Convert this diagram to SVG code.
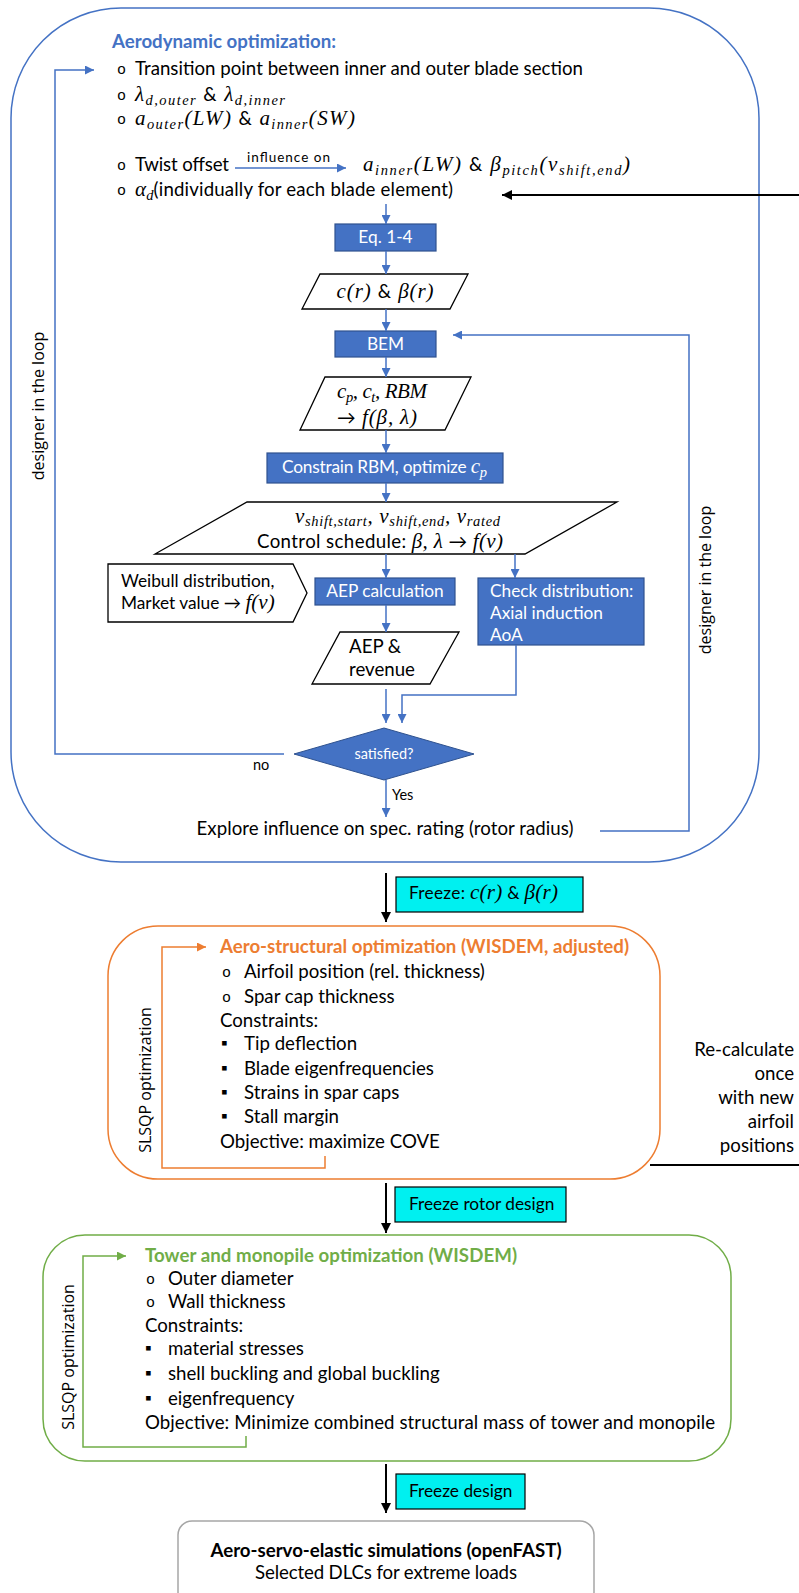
<svg xmlns="http://www.w3.org/2000/svg" width="799" height="1593" viewBox="0 0 799 1593">
<style>
.t{font-family:Lato,'Liberation Sans',sans-serif;font-size:18.67px;fill:#000}
.bx{font-size:17.3px}
.s13{font-size:14.5px}
.sq{font-size:17px}
.b{font-weight:bold}
.w{fill:#fff}
.m{font-family:'Liberation Serif',serif;font-style:italic;font-size:21px}
.sub{font-size:14.5px}
.bul{font-family:'Liberation Mono',monospace;font-size:15px;fill:#000}
.rot{font-family:'Open Sans',sans-serif;font-size:16px;fill:#000}
.bl{fill:none;stroke:#4472C4;stroke-width:1.5}
.bk{fill:none;stroke:#000;stroke-width:2}
.box{fill:#4472C4;stroke:#2F528F;stroke-width:1.2}
.par{fill:#fff;stroke:#000;stroke-width:1.3}
.cy{fill:#00F0F0;stroke:#000;stroke-width:1.2}
</style>
<defs>
<marker id="ab" viewBox="0 0 10 10" refX="10" refY="5" markerWidth="9" markerHeight="9" markerUnits="userSpaceOnUse" orient="auto"><path d="M0,0 L10,5 L0,10 z" fill="#4472C4"/></marker>
<marker id="ak" viewBox="0 0 10 10" refX="10" refY="5" markerWidth="10" markerHeight="10" markerUnits="userSpaceOnUse" orient="auto"><path d="M0,0 L10,5 L0,10 z" fill="#000"/></marker>
<marker id="ao" viewBox="0 0 10 10" refX="10" refY="5" markerWidth="9" markerHeight="9" markerUnits="userSpaceOnUse" orient="auto"><path d="M0,0 L10,5 L0,10 z" fill="#ED7D31"/></marker>
<marker id="ag" viewBox="0 0 10 10" refX="10" refY="5" markerWidth="9" markerHeight="9" markerUnits="userSpaceOnUse" orient="auto"><path d="M0,0 L10,5 L0,10 z" fill="#70AD47"/></marker>
</defs>

<g id="aero-frame">
<rect x="11" y="8" width="748" height="854" rx="110" ry="110" fill="none" stroke="#4472C4" stroke-width="1.5"/>
<text class="t b" x="112" y="48" style="fill:#4472C4" textLength="224">Aerodynamic optimization:</text>
<text class="bul" x="117" y="74">o</text>
<text class="t" x="135" y="75" textLength="448">Transition point between inner and outer blade section</text>
<text class="bul" x="117" y="100">o</text>
<text class="t" x="135" y="101" textLength="150"><tspan class="m">λ</tspan><tspan class="m sub" dy="4">d,outer</tspan><tspan dy="-4"> &amp; </tspan><tspan class="m">λ</tspan><tspan class="m sub" dy="4">d,inner</tspan></text>
<text class="bul" x="117" y="124">o</text>
<text class="t" x="135" y="125" textLength="220"><tspan class="m">a</tspan><tspan class="m sub" dy="4">outer</tspan><tspan class="m" dy="-4">(LW)</tspan><tspan> &amp; </tspan><tspan class="m">a</tspan><tspan class="m sub" dy="4">inner</tspan><tspan class="m" dy="-4">(SW)</tspan></text>
<text class="bul" x="117" y="170">o</text>
<text class="t" x="135" y="171" textLength="94">Twist offset</text>
<text class="t" x="247" y="162" style="font-size:13.5px" textLength="83">influence on</text>
<text class="t" x="363" y="171" textLength="267"><tspan class="m">a</tspan><tspan class="m sub" dy="4">inner</tspan><tspan class="m" dy="-4">(LW)</tspan><tspan> &amp; </tspan><tspan class="m">β</tspan><tspan class="m sub" dy="4">pitch</tspan><tspan class="m" dy="-4">(v</tspan><tspan class="m sub" dy="4">shift,end</tspan><tspan class="m" dy="-4">)</tspan></text>
<text class="bul" x="117" y="195">o</text>
<text class="t" x="135" y="196" textLength="318"><tspan class="m">α</tspan><tspan class="m sub" dy="4">d</tspan><tspan dy="-4">(individually for each blade element)</tspan></text>
<text class="rot" transform="translate(44,406) rotate(-90)" text-anchor="middle">designer in the loop</text>
<text class="rot" transform="translate(711,580) rotate(-90)" text-anchor="middle">designer in the loop</text>
</g>

<g id="eq14"><rect class="box" x="335" y="224" width="101" height="27"/><text class="t bx w" x="385.5" y="243" text-anchor="middle">Eq. 1-4</text></g>
<g id="cr-beta"><polygon class="par" points="320,274 468,274 450,309 302,309"/><text class="t" x="385" y="298" text-anchor="middle" textLength="97"><tspan class="m">c(r) </tspan><tspan>&amp;</tspan><tspan class="m"> β(r)</tspan></text></g>
<g id="bem"><rect class="box" x="335" y="331" width="101" height="26"/><text class="t bx w" x="385.5" y="350" text-anchor="middle">BEM</text></g>
<g id="cp-ct"><polygon class="par" points="325,377 471,377 445,430 300,430"/>
<text class="t" x="337" y="398" textLength="90"><tspan class="m">c</tspan><tspan class="m sub" dy="4">p</tspan><tspan class="m" dy="-4">, c</tspan><tspan class="m sub" dy="4">t</tspan><tspan class="m" dy="-4">, RBM</tspan></text>
<text class="t" x="337" y="424" textLength="80"><tspan>→ </tspan><tspan class="m">f(β, λ)</tspan></text></g>
<g id="constrain"><rect class="box" x="267" y="453" width="236" height="30"/><text class="t bx w" x="282" y="473" textLength="205">Constrain RBM, optimize <tspan class="m">c</tspan><tspan class="m sub" dy="4">p</tspan></text></g>
<g id="schedule"><polygon class="par" points="247,502 617,502 525,554 155,554"/>
<text class="t" x="295" y="523" textLength="205"><tspan class="m">v</tspan><tspan class="m sub" dy="3">shift,start</tspan><tspan class="m" dy="-3">, v</tspan><tspan class="m sub" dy="3">shift,end</tspan><tspan class="m" dy="-3">, v</tspan><tspan class="m sub" dy="3">rated</tspan></text>
<text class="t" x="257" y="548" textLength="246">Control schedule: <tspan class="m">β, λ</tspan> → <tspan class="m">f(v)</tspan></text></g>
<g id="weibull"><polygon class="par" points="108,564 293,564 307,593 293,622 108,622"/>
<text class="t bx" x="121" y="587">Weibull distribution,</text>
<text class="t bx" x="121" y="609">Market value → <tspan class="m">f(v)</tspan></text></g>
<g id="aep-calc"><rect class="box" x="315" y="578" width="140" height="27"/><text class="t bx w" x="385" y="597" text-anchor="middle">AEP calculation</text></g>
<g id="check"><rect class="box" x="478" y="578" width="166" height="67"/>
<text class="t bx w" x="490" y="597">Check distribution:</text>
<text class="t bx w" x="490" y="619">Axial induction</text>
<text class="t bx w" x="490" y="641">AoA</text></g>
<g id="aep-rev"><polygon class="par" points="340,632 459,632 430,684 312,684"/>
<text class="t" x="349" y="653">AEP &amp;</text>
<text class="t" x="349" y="676">revenue</text></g>
<g id="satisfied"><polygon points="294,754 384,728 474,754 384,780" fill="#4472C4" stroke="#2F528F" stroke-width="1"/>
<text class="t s13 w" x="384" y="759" text-anchor="middle">satisfied?</text></g>
<g id="explore"><text class="t" x="385" y="835" text-anchor="middle" textLength="377">Explore influence on spec. rating (rotor radius)</text></g>

<g id="freeze1"><rect class="cy" x="396" y="877" width="187" height="35"/><text class="t bx" x="409" y="899" textLength="149">Freeze: <tspan class="m">c(r)</tspan> &amp; <tspan class="m">β(r)</tspan></text></g>

<g id="aero-structural">
<rect x="108" y="926" width="552" height="253" rx="50" ry="50" fill="none" stroke="#ED7D31" stroke-width="1.5"/>
<text class="t b" x="220" y="953" style="fill:#ED7D31" textLength="409">Aero-structural optimization (WISDEM, adjusted)</text>
<text class="bul" x="222" y="977">o</text><text class="t" x="244" y="978">Airfoil position (rel. thickness)</text>
<text class="bul" x="222" y="1002">o</text><text class="t" x="244" y="1003">Spar cap thickness</text>
<text class="t" x="220" y="1027">Constraints:</text>
<text class="t sq" x="221" y="1049">▪</text><text class="t" x="244" y="1050">Tip deflection</text>
<text class="t sq" x="221" y="1074">▪</text><text class="t" x="244" y="1075">Blade eigenfrequencies</text>
<text class="t sq" x="221" y="1098">▪</text><text class="t" x="244" y="1099">Strains in spar caps</text>
<text class="t sq" x="221" y="1122">▪</text><text class="t" x="244" y="1123">Stall margin</text>
<text class="t" x="220" y="1148">Objective: maximize COVE</text>
<text class="rot" transform="translate(151,1080) rotate(-90)" text-anchor="middle">SLSQP optimization</text>
</g>
<g id="recalc">
<text class="t" x="794" y="1056" text-anchor="end">Re-calculate</text>
<text class="t" x="794" y="1080" text-anchor="end">once</text>
<text class="t" x="794" y="1104" text-anchor="end">with new</text>
<text class="t" x="794" y="1128" text-anchor="end">airfoil</text>
<text class="t" x="794" y="1152" text-anchor="end">positions</text>
</g>

<g id="freeze2"><rect class="cy" x="395" y="1187" width="171" height="35"/><text class="t bx" x="409" y="1210">Freeze rotor design</text></g>

<g id="tower">
<rect x="43" y="1235" width="688" height="226" rx="42" ry="42" fill="none" stroke="#70AD47" stroke-width="1.5"/>
<text class="t b" x="145" y="1262" style="fill:#70AD47" textLength="372">Tower and monopile optimization (WISDEM)</text>
<text class="bul" x="146" y="1284">o</text><text class="t" x="168" y="1285">Outer diameter</text>
<text class="bul" x="146" y="1307">o</text><text class="t" x="168" y="1308">Wall thickness</text>
<text class="t" x="145" y="1332">Constraints:</text>
<text class="t sq" x="145" y="1354">▪</text><text class="t" x="168" y="1355">material stresses</text>
<text class="t sq" x="145" y="1379">▪</text><text class="t" x="168" y="1380">shell buckling and global buckling</text>
<text class="t sq" x="145" y="1404">▪</text><text class="t" x="168" y="1405">eigenfrequency</text>
<text class="t" x="145" y="1429" textLength="570">Objective: Minimize combined structural mass of tower and monopile</text>
<text class="rot" transform="translate(74,1357) rotate(-90)" text-anchor="middle">SLSQP optimization</text>
</g>

<g id="freeze3"><rect class="cy" x="396" y="1474" width="129" height="35"/><text class="t bx" x="409" y="1497">Freeze design</text></g>

<g id="aeroelastic">
<rect x="178" y="1521" width="416" height="85" rx="14" ry="14" fill="#fff" stroke="#A6A6A6" stroke-width="1.5"/>
<text class="t b" x="386" y="1557" text-anchor="middle" textLength="351">Aero-servo-elastic simulations (openFAST)</text>
<text class="t" x="386" y="1579" text-anchor="middle" textLength="262">Selected DLCs for extreme loads</text>
</g>

<g id="connectors">
<polyline class="bl" points="284,754 55,754 55,70 94,70" marker-end="url(#ab)"/>
<text class="t s13" x="253" y="770">no</text>
<line class="bl" x1="235" y1="168" x2="346" y2="168" marker-end="url(#ab)"/>
<line class="bk" x1="799" y1="195" x2="502" y2="195" marker-end="url(#ak)"/>
<line class="bl" x1="386" y1="204" x2="386" y2="224" marker-end="url(#ab)"/>
<line class="bl" x1="386" y1="251" x2="386" y2="274" marker-end="url(#ab)"/>
<line class="bl" x1="386" y1="309" x2="386" y2="331" marker-end="url(#ab)"/>
<line class="bl" x1="386" y1="357" x2="386" y2="377" marker-end="url(#ab)"/>
<line class="bl" x1="386" y1="430" x2="386" y2="453" marker-end="url(#ab)"/>
<line class="bl" x1="386" y1="483" x2="386" y2="502" marker-end="url(#ab)"/>
<line class="bl" x1="386" y1="554" x2="386" y2="578" marker-end="url(#ab)"/>
<line class="bl" x1="515" y1="554" x2="515" y2="578" marker-end="url(#ab)"/>
<line class="bl" x1="386" y1="605" x2="386" y2="632" marker-end="url(#ab)"/>
<line class="bl" x1="386" y1="689" x2="386" y2="723" marker-end="url(#ab)"/>
<polyline class="bl" points="516,645 516,695 402,695 402,723" marker-end="url(#ab)"/>
<line class="bl" x1="386" y1="780" x2="386" y2="817" marker-end="url(#ab)"/>
<text class="t s13" x="392" y="800">Yes</text>
<polyline class="bl" points="600,831 689,831 689,335 453,335" marker-end="url(#ab)"/>
<line class="bk" x1="386" y1="873" x2="386" y2="922" marker-end="url(#ak)"/>
<polyline points="325,1156 325,1168 162,1168 162,947 206,947" fill="none" stroke="#ED7D31" stroke-width="1.5" marker-end="url(#ao)"/>
<line x1="650" y1="1165" x2="799" y2="1165" stroke="#000" stroke-width="2"/>
<line class="bk" x1="386" y1="1183" x2="386" y2="1233" marker-end="url(#ak)"/>
<polyline points="246,1436 246,1447 83,1447 83,1256 126,1256" fill="none" stroke="#70AD47" stroke-width="1.5" marker-end="url(#ag)"/>
<line class="bk" x1="386" y1="1464" x2="386" y2="1513" marker-end="url(#ak)"/>
</g>
</svg>
